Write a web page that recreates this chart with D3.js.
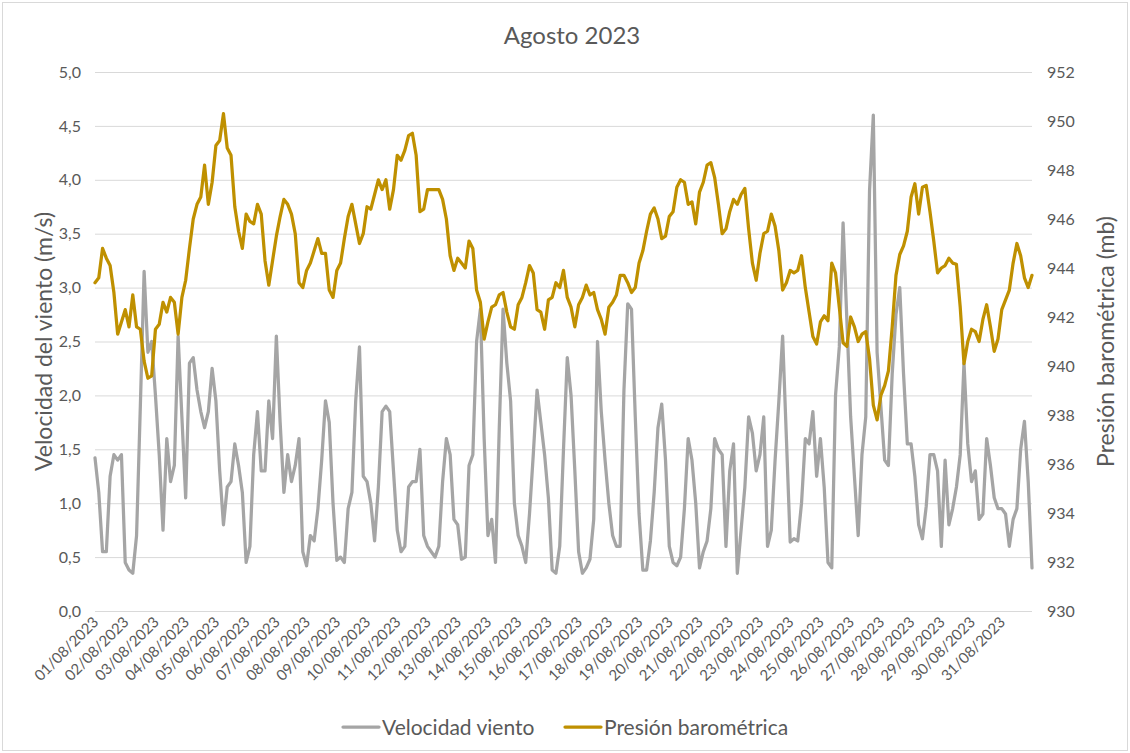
<!DOCTYPE html>
<html>
<head>
<meta charset="utf-8">
<script src="https://cdn.jsdelivr.net/npm/d3@7"></script>
<style>
  body { margin: 0; background: #fff; }
  svg { display: block; font-family: Lato, 'Open Sans', sans-serif; }
</style>
</head>
<body>
<svg id="chart" width="1130" height="753"></svg>
<script>
const chartTitle = 'Agosto 2023';
const windLabel = 'Velocidad del viento (m/s)';
const pressureLabel = 'Presión barométrica (mb)';
const seriesNames = ['Velocidad viento', 'Presión barométrica'];

const windTicks = [0, 0.5, 1, 1.5, 2, 2.5, 3, 3.5, 4, 4.5, 5];
const pressureTicks = [930, 932, 934, 936, 938, 940, 942, 944, 946, 948, 950, 952];

// readings every 3 hours from 01/08/2023 00:00 (8 per day), last one at the end of 31/08
const windSpeed = [
  1.42, 1.1, 0.55, 0.55, 1.25, 1.45, 1.4, 1.45,
  0.45, 0.38, 0.35, 0.7, 1.9, 3.15, 2.4, 2.5,
  2.0, 1.45, 0.75, 1.6, 1.2, 1.35, 2.55, 1.8,
  1.05, 2.3, 2.35, 2.05, 1.85, 1.7, 1.85, 2.25,
  1.95, 1.3, 0.8, 1.15, 1.2, 1.55, 1.35, 1.1,
  0.45, 0.6, 1.45, 1.85, 1.3, 1.3, 1.95, 1.6,
  2.55, 1.75, 1.1, 1.45, 1.2, 1.35, 1.6, 0.55,
  0.42, 0.7, 0.65, 0.95, 1.4, 1.95, 1.75, 1.0,
  0.47, 0.5, 0.45, 0.95, 1.1, 1.95, 2.45, 1.25,
  1.2, 1.0, 0.65, 1.15, 1.85, 1.9, 1.85, 1.3,
  0.75, 0.55, 0.6, 1.15, 1.2, 1.2, 1.5, 0.7,
  0.6, 0.55, 0.5, 0.6, 1.2, 1.6, 1.45, 0.85,
  0.8, 0.48, 0.5, 1.35, 1.45, 2.5, 2.8, 1.6,
  0.7, 0.85, 0.45, 1.7, 2.8, 2.3, 1.95, 1.0,
  0.7, 0.6, 0.45, 0.9, 1.45, 2.05, 1.75, 1.45,
  1.05, 0.38, 0.35, 0.6, 1.5, 2.35, 2.0, 1.3,
  0.55, 0.35, 0.4, 0.48, 0.85, 2.5, 1.85, 1.4,
  1.0, 0.7, 0.6, 0.6, 2.05, 2.85, 2.8, 1.8,
  0.9, 0.38, 0.38, 0.65, 1.1, 1.7, 1.92, 1.4,
  0.6, 0.45, 0.42, 0.5, 0.95, 1.6, 1.4, 1.0,
  0.4, 0.55, 0.65, 0.95, 1.6, 1.5, 1.45, 0.6,
  1.3, 1.55, 0.35, 0.75, 1.15, 1.8, 1.65, 1.3,
  1.45, 1.8, 0.6, 0.75, 1.4, 1.95, 2.55, 1.6,
  0.64, 0.67, 0.65, 1.0, 1.6, 1.55, 1.85, 1.25,
  1.6, 1.15, 0.45, 0.4, 2.0, 2.45, 3.6, 2.7,
  1.8, 1.25, 0.7, 1.45, 1.8, 3.9, 4.6, 2.4,
  1.9, 1.4, 1.35, 2.2, 2.75, 3.0, 2.2, 1.55,
  1.55, 1.25, 0.8, 0.67, 0.97, 1.45, 1.45, 1.3,
  0.6, 1.4, 0.8, 0.95, 1.15, 1.45, 2.3, 1.55,
  1.2, 1.3, 0.85, 0.9, 1.6, 1.35, 1.05, 0.95,
  0.95, 0.9, 0.6, 0.85, 0.95, 1.5, 1.76, 1.2,
  0.4
];

const pressure = [
  943.4, 943.6, 944.8, 944.4, 944.1, 943.0, 941.3, 941.8,
  942.3, 941.6, 942.9, 941.6, 941.5, 940.2, 939.5, 939.6,
  941.5, 941.7, 942.6, 942.2, 942.8, 942.6, 941.3, 942.8,
  943.5, 944.8, 946.0, 946.6, 946.9, 948.2, 946.6, 947.5,
  949.0, 949.2, 950.3, 948.9, 948.6, 946.5, 945.5, 944.8,
  946.2, 945.9, 945.8, 946.6, 946.2, 944.3, 943.3, 944.3,
  945.3, 946.1, 946.8, 946.6, 946.2, 945.4, 943.4, 943.2,
  943.9, 944.2, 944.7, 945.2, 944.6, 944.6, 943.1, 942.8,
  943.9, 944.2, 945.2, 946.1, 946.6, 945.8, 945.0, 945.4,
  946.5, 946.4, 947.0, 947.6, 947.2, 947.6, 946.4, 947.2,
  948.6, 948.4, 948.8, 949.4, 949.5, 948.6, 946.3, 946.4,
  947.2, 947.2, 947.2, 947.2, 946.8, 946.0, 944.5, 943.9,
  944.4, 944.2, 944.0, 945.1, 944.8, 943.1, 942.6, 941.1,
  941.8, 942.4, 942.5, 942.9, 943.0, 942.2, 941.6, 941.5,
  942.5, 942.8, 943.4, 944.1, 943.8, 942.3, 942.2, 941.5,
  942.7, 942.8, 943.4, 943.2, 943.9, 942.8, 942.4, 941.6,
  942.5, 942.8, 943.3, 942.9, 943.0, 942.3, 941.9, 941.3,
  942.4, 942.6, 942.9, 943.7, 943.7, 943.4, 943.0, 943.2,
  944.2, 944.7, 945.5, 946.2, 946.45, 946.0, 945.2, 945.3,
  946.1, 946.3, 947.3, 947.6, 947.5, 946.6, 946.7, 945.8,
  947.1, 947.5, 948.2, 948.3, 947.7, 946.6, 945.4, 945.6,
  946.3, 946.8, 946.6, 947.0, 947.25, 945.6, 944.2, 943.5,
  944.6, 945.4, 945.5, 946.2, 945.7, 944.7, 943.1, 943.4,
  943.9, 943.8, 943.9, 944.5, 943.2, 942.2, 941.2, 940.9,
  941.8, 942.05, 941.85, 944.2, 943.8, 942.4, 940.95, 940.8,
  942.0, 941.6, 941.0, 941.3, 941.4, 940.3, 938.4, 937.8,
  938.8, 939.2, 939.8, 941.6, 943.7, 944.55, 944.9, 945.5,
  946.9, 947.44, 946.2, 947.3, 947.37, 946.3, 945.1, 943.8,
  944.0, 944.1, 944.4, 944.2, 944.15, 942.4, 940.1, 941.0,
  941.5, 941.4, 941.0, 941.9, 942.5, 941.6, 940.6, 941.1,
  942.3, 942.7, 943.1, 944.2, 945.0, 944.5, 943.6, 943.2,
  943.7
];

const colors = { wind: '#A5A5A5', pressure: '#BF9000', grid: '#D9D9D9', text: '#595959' };

const svg = d3.select('#chart');
const W = 1130, H = 753;
const plot = { left: 95, right: 1032, top: 72, bottom: 611 };

const start = new Date(2023, 7, 1);
const end = new Date(2023, 8, 1);
const stepHours = 3;
const timeOf = i => d3.timeHour.offset(start, i * stepHours);

const x = d3.scaleTime().domain([start, end]).range([plot.left, plot.right]);
const yWind = d3.scaleLinear().domain([0, 5]).range([plot.bottom, plot.top]);
const yPress = d3.scaleLinear().domain([930, 952]).range([plot.bottom, plot.top]);

// chart border
svg.append('rect')
  .attr('x', 2.5).attr('y', 2.5)
  .attr('width', W - 5).attr('height', H - 5)
  .attr('fill', '#fff')
  .attr('stroke', colors.grid);

// title
svg.append('text')
  .attr('x', 572)
  .attr('y', 44)
  .attr('text-anchor', 'middle')
  .attr('font-size', '24px')
  .attr('fill', colors.text)
  .text(chartTitle);

// gridlines + left axis
const fmtWind = d => d.toFixed(1).replace('.', ',');
const gLeft = svg.append('g').attr('transform', `translate(${plot.left},0)`)
  .call(d3.axisLeft(yWind).tickValues(windTicks).tickFormat(fmtWind)
    .tickSize(-(plot.right - plot.left)).tickPadding(14));
gLeft.select('.domain').remove();
gLeft.selectAll('.tick line').attr('stroke', colors.grid).attr('stroke-width', 1);
gLeft.selectAll('.tick text').attr('fill', colors.text).attr('font-size', '16px')
  .attr('font-family', 'Lato, sans-serif');

// right axis
const gRight = svg.append('g').attr('transform', `translate(${plot.right},0)`)
  .call(d3.axisRight(yPress).tickValues(pressureTicks).tickSize(0).tickPadding(15));
gRight.select('.domain').remove();
gRight.selectAll('.tick text').attr('fill', colors.text).attr('font-size', '16px')
  .attr('font-family', 'Lato, sans-serif');

// x axis: one label per day, rotated
const days = d3.timeDay.range(start, end);
const fmtDay = d3.timeFormat('%d/%m/%Y');
const gX = svg.append('g').attr('transform', `translate(0,${plot.bottom})`)
  .call(d3.axisBottom(x).tickValues(days).tickFormat(fmtDay).tickSize(0).tickPadding(0));
gX.select('.domain').remove();
gX.selectAll('.tick text')
  .attr('fill', colors.text)
  .attr('font-size', '15px')
  .attr('font-family', 'Lato, sans-serif')
  .attr('text-anchor', 'end')
  .attr('dy', 0)
  .attr('transform', 'translate(4,12) rotate(-45)');

// axis titles
svg.append('text')
  .attr('transform', `translate(52,${(plot.top + plot.bottom) / 2}) rotate(-90)`)
  .attr('text-anchor', 'middle')
  .attr('font-size', '23px')
  .attr('fill', colors.text)
  .text(windLabel);

svg.append('text')
  .attr('transform', `translate(1114,${(plot.top + plot.bottom) / 2}) rotate(-90)`)
  .attr('text-anchor', 'middle')
  .attr('font-size', '23px')
  .attr('fill', colors.text)
  .text(pressureLabel);

// series
const windLine = d3.line().x((d, i) => x(timeOf(i))).y(d => yWind(d));
const pressLine = d3.line().x((d, i) => x(timeOf(i))).y(d => yPress(d));

svg.append('path')
  .datum(windSpeed)
  .attr('d', windLine)
  .attr('fill', 'none')
  .attr('stroke', colors.wind)
  .attr('stroke-width', 3.25)
  .attr('stroke-linejoin', 'round')
  .attr('stroke-linecap', 'round');

svg.append('path')
  .datum(pressure)
  .attr('d', pressLine)
  .attr('fill', 'none')
  .attr('stroke', colors.pressure)
  .attr('stroke-width', 3.25)
  .attr('stroke-linejoin', 'round')
  .attr('stroke-linecap', 'round');

// legend
const legend = svg.append('g').attr('transform', 'translate(0,727)');
const legendItems = [
  { name: seriesNames[0], color: colors.wind, x: 343 },
  { name: seriesNames[1], color: colors.pressure, x: 565 }
];
legendItems.forEach(item => {
  legend.append('line')
    .attr('x1', item.x).attr('x2', item.x + 36)
    .attr('y1', 0).attr('y2', 0)
    .attr('stroke', item.color).attr('stroke-width', 3.25)
    .attr('stroke-linecap', 'round');
  legend.append('text')
    .attr('x', item.x + 39)
    .attr('y', 8)
    .attr('font-size', '21px')
    .attr('fill', colors.text)
    .text(item.name);
});
</script>
</body>
</html>
